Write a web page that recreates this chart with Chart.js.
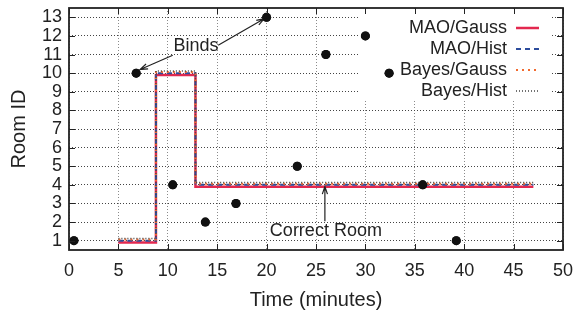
<!DOCTYPE html>
<html>
<head>
<meta charset="utf-8">
<script src="https://cdn.jsdelivr.net/npm/chart.js@4.4.0/dist/chart.umd.min.js"></script>
<style>
    html, body { margin: 0; padding: 0; background: #fff; }
</style>
</head>
<body>
<canvas id="roomChart" width="575" height="318"></canvas>
<script>
// Observed room for each reading (black dots)
var obsTime = [0.5, 6.8, 10.5, 13.8, 16.9, 20, 23.1, 26, 30, 32.4, 35.8, 39.2];
var obsRoom = [1, 10, 4, 2, 3, 13, 5, 11, 12, 10, 4, 1];

// Estimated room for each method; steps change at these times
var stepTime = [5, 8.8, 12.8, 47];
var maoGauss = [0.9, 9.9, 3.9, 3.9];
var maoHist = [1.0, 10.0, 4.0, 4.0];
var bayesGauss = [1.06, 10.06, 4.06, 4.06];
var bayesHist = [1.12, 10.12, 4.12, 4.12];

var seriesNames = ['MAO/Gauss', 'MAO/Hist', 'Bayes/Gauss', 'Bayes/Hist'];
var xTicks = [0, 5, 10, 15, 20, 25, 30, 35, 40, 45, 50];
var yTicks = [1, 2, 3, 4, 5, 6, 7, 8, 9, 10, 11, 12, 13];

// Text notes and arrows, in data coordinates
var notes = [
    { text: 'Binds', x: 12.85, y: 11.45 },
    { text: 'Correct Room', x: 26, y: 1.54 }
];
var arrows = [
    { from: [10.5, 10.96], to: [7.2, 10.2] },
    { from: [15.1, 11.5], to: [19.75, 12.92] },
    { from: [25.9, 2.04], to: [25.9, 3.91] }
];

var FONT = '"Liberation Sans", Arial, Helvetica, sans-serif';
var INK = '#222';

function toPoints(xs, ys) {
    return xs.map(function(x, i) { return { x: x, y: ys[i] }; });
}

function stepSet(label, values, color, width, dash, order) {
    return {
        label: label,
        data: toPoints(stepTime, values),
        showLine: true,
        stepped: true,
        borderColor: color,
        borderWidth: width,
        borderDash: dash,
        pointRadius: 0,
        fill: false,
        order: order
    };
}

var styles = [
    { color: '#e3284f', width: 2.5, dash: [] },
    { color: '#2c4c9c', width: 2, dash: [5, 4] },
    { color: '#f26a2e', width: 2, dash: [2, 4] },
    { color: '#444444', width: 1.5, dash: [1, 2] }
];

function drawArrow(ctx, x1, y1, x2, y2) {
    var ang = Math.atan2(y2 - y1, x2 - x1);
    var len = 8, spread = 0.33;
    ctx.beginPath();
    ctx.moveTo(x1, y1);
    ctx.lineTo(x2, y2);
    ctx.moveTo(x2 - len * Math.cos(ang - spread), y2 - len * Math.sin(ang - spread));
    ctx.lineTo(x2, y2);
    ctx.lineTo(x2 - len * Math.cos(ang + spread), y2 - len * Math.sin(ang + spread));
    ctx.stroke();
}

var framePlugin = {
    id: 'frame',
    beforeDatasetsDraw: function(chart) {
        // opaque key box
        var a = chart.chartArea, ctx = chart.ctx;
        ctx.save();
        ctx.fillStyle = '#fff';
        ctx.fillRect(a.right - 205, a.top + 1, 192, 92);
        ctx.restore();
    },
    afterDatasetsDraw: function(chart) {
        var a = chart.chartArea, ctx = chart.ctx;
        var xs = chart.scales.x, ys = chart.scales.y;
        ctx.save();

        // notes and arrows (under the frame and the dots' neighbours)
        ctx.font = '18px ' + FONT;
        ctx.fillStyle = INK;
        ctx.textBaseline = 'middle';
        ctx.textAlign = 'center';
        notes.forEach(function(n) {
            ctx.fillText(n.text, xs.getPixelForValue(n.x), ys.getPixelForValue(n.y));
        });
        ctx.strokeStyle = INK;
        ctx.lineWidth = 1.2;
        arrows.forEach(function(ar) {
            drawArrow(ctx,
                xs.getPixelForValue(ar.from[0]), ys.getPixelForValue(ar.from[1]),
                xs.getPixelForValue(ar.to[0]), ys.getPixelForValue(ar.to[1]));
        });

        // redraw the dots so the arrow tips sit under them
        var meta = chart.getDatasetMeta(0);
        ctx.fillStyle = '#111';
        meta.data.forEach(function(pt) {
            ctx.beginPath();
            ctx.arc(pt.x, pt.y, 4.5, 0, Math.PI * 2);
            ctx.fill();
        });

        // inward ticks on all four sides
        ctx.strokeStyle = INK;
        ctx.lineWidth = 1;
        ctx.beginPath();
        xTicks.forEach(function(v) {
            var px = Math.round(xs.getPixelForValue(v)) + 0.5;
            ctx.moveTo(px, a.bottom); ctx.lineTo(px, a.bottom - 6);
            ctx.moveTo(px, a.top); ctx.lineTo(px, a.top + 6);
        });
        yTicks.forEach(function(v) {
            var py = Math.round(ys.getPixelForValue(v)) + 0.5;
            ctx.moveTo(a.left, py); ctx.lineTo(a.left + 6, py);
            ctx.moveTo(a.right, py); ctx.lineTo(a.right - 6, py);
        });
        ctx.stroke();

        // border
        ctx.lineWidth = 1.8;
        ctx.strokeRect(a.left, a.top, a.right - a.left, a.bottom - a.top);

        // key
        ctx.fillStyle = INK;
        ctx.textAlign = 'right';
        seriesNames.forEach(function(name, i) {
            var y = a.top + 20 + i * 21;
            ctx.fillText(name, a.right - 56, y);
            ctx.save();
            ctx.strokeStyle = styles[i].color;
            ctx.lineWidth = styles[i].width;
            ctx.setLineDash(styles[i].dash);
            ctx.beginPath();
            ctx.moveTo(a.right - 47, y);
            ctx.lineTo(a.right - 24, y);
            ctx.stroke();
            ctx.restore();
        });
        ctx.restore();
    }
};

var datasets = [{
    label: 'Observed',
    data: toPoints(obsTime, obsRoom),
    backgroundColor: '#111',
    borderWidth: 0,
    pointRadius: 4.5,
    order: 0
}];
seriesNames.forEach(function(name, i) {
    var vals = [maoGauss, maoHist, bayesGauss, bayesHist][i];
    datasets.push(stepSet(name, vals, styles[i].color, styles[i].width, styles[i].dash, 4 - i));
});

var ctx = document.getElementById('roomChart').getContext('2d');
window.roomChart = new Chart(ctx, {
    type: 'scatter',
    data: { datasets: datasets },
    options: {
        responsive: false,
        animation: false,
        layout: { padding: { left: 0, right: 12, top: 8, bottom: 0 } },
        plugins: { legend: { display: false }, tooltip: { enabled: false } },
        scales: {
            x: {
                type: 'linear',
                min: 0,
                max: 50,
                afterBuildTicks: function(s) { s.ticks = xTicks.map(function(v) { return { value: v }; }); },
                afterFit: function(s) { s.height = 68; s.paddingLeft = 0; s.paddingRight = 0; },
                grid: { color: '#8a8a8a', lineWidth: 1, drawTicks: false },
                border: { display: false, dash: [1, 2] },
                ticks: { color: INK, font: { family: FONT, size: 18 }, padding: 10, maxRotation: 0, autoSkip: false },
                title: { display: true, text: 'Time (minutes)', color: INK, font: { family: FONT, size: 20 }, padding: { top: 0, bottom: 6 } }
            },
            y: {
                type: 'linear',
                min: 0.5,
                max: 13.5,
                afterBuildTicks: function(s) { s.ticks = yTicks.map(function(v) { return { value: v }; }); },
                afterFit: function(s) { s.width = 69; s.paddingTop = 0; s.paddingBottom = 0; },
                grid: { color: '#444', lineWidth: 1, drawTicks: false },
                border: { display: false, dash: [1, 2] },
                ticks: { color: INK, font: { family: FONT, size: 18 }, padding: 7, autoSkip: false },
                title: { display: true, text: 'Room ID', color: INK, font: { family: FONT, size: 20 }, padding: { top: 7, bottom: 0 } }
            }
        }
    },
    plugins: [framePlugin]
});
</script>
</body>
</html>
